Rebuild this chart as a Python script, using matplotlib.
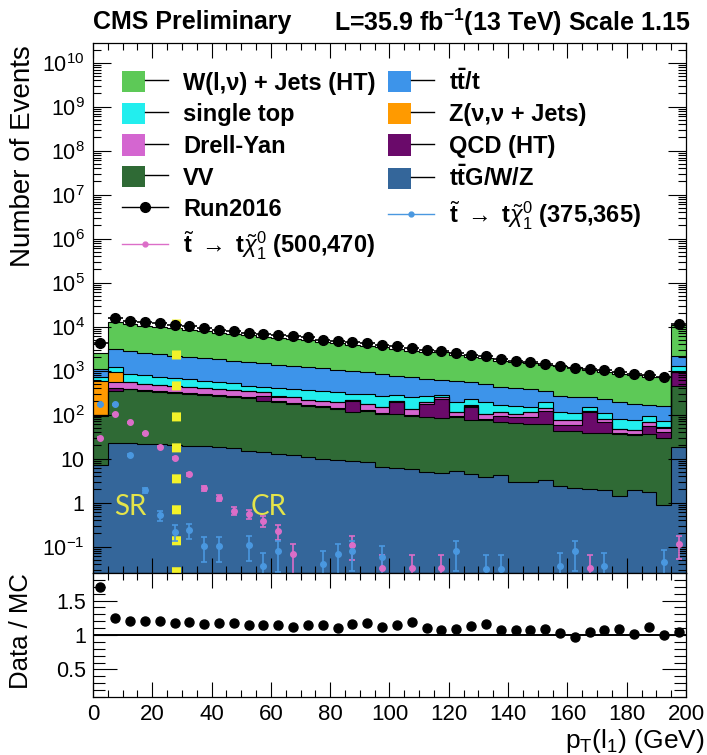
import numpy as np
import matplotlib
matplotlib.use("Agg")
import matplotlib.pyplot as plt
from matplotlib.patches import Patch
from matplotlib.lines import Line2D
from matplotlib.legend_handler import HandlerTuple
from matplotlib.ticker import FuncFormatter, LogLocator, MultipleLocator, NullFormatter

plt.rcParams['font.family'] = ['Liberation Sans', 'DejaVu Sans']
plt.rcParams['mathtext.fontset'] = 'custom'
plt.rcParams['mathtext.rm'] = 'Liberation Sans'
plt.rcParams['mathtext.it'] = 'Liberation Sans:italic'
plt.rcParams['mathtext.bf'] = 'Liberation Sans:bold'

# leading lepton pT, 5 GeV bins, last bin holds the overflow
edges = np.arange(0, 205, 5)
centers = 0.5 * (edges[:-1] + edges[1:])

data = [4200, 16000, 13500, 12500, 11800, 11000, 10200, 9300, 8600, 8100,
        7200, 6800, 6500, 6000, 5800, 5100, 4600, 4400, 4200, 3800,
        3650, 3300, 2900, 2800, 2500, 2300, 2200, 1800, 1700, 1600,
        1420, 1300, 1150, 1100, 1020, 920, 830, 790, 700, 11500]

# backgrounds, listed from the bottom of the stack upwards
ttgwz = [7, 23, 23, 21, 21, 20, 19, 19, 18, 17, 15, 14, 13, 12, 11, 10, 9.3, 8.7, 8.3, 6.4,
         6.0, 5.8, 4.9, 4.6, 5.2, 4.5, 3.9, 4.3, 2.9, 2.9, 3.2, 2.4, 2.2, 2.0, 1.9, 1.4, 1.9, 1.7, 0.9, 18]
vv = [88, 315, 354, 330, 306, 291, 276, 266, 252, 240, 224, 190, 184, 163, 149, 137, 126, 104, 111, 98,
      98, 89, 82, 79, 82, 72, 72, 63, 61, 58, 58, 41, 41, 36, 36, 35, 33, 34, 29, 438]
qcd = [2, 65, 15, 14, 13, 12, 12, 11, 11, 10, 10, 66, 5, 5, 7, 7, 8, 95, 6, 5,
       87, 4, 88, 143, 5, 76, 5, 28, 26, 29, 62, 16, 16, 75, 29, 2, 2, 20, 10, 460]
dy = [3, 139, 151, 133, 132, 126, 126, 115, 109, 103, 90, 52, 55, 68, 48, 54, 54, 11, 50, 38,
      17, 36, 16, 21, 21, 8, 23, 18, 14, 23, 19, 17, 17, 10, 13, 9, 8, 11, 11, 5]
znn = [480, 373, 4, 3, 3, 3, 2, 2, 2, 2, 2, 2, 2, 1, 1, 1, 1, 1, 1, 1,
       1, 1, 1, 1, 1, 1, 1, 1, 1, 1, 0.5, 0.5, 0.5, 0.5, 0.5, 0.5, 0.5, 0.5, 0.5, 3]
stop = [129, 274, 293, 297, 256, 229, 200, 180, 160, 143, 115, 109, 145, 133, 148, 130, 124, 75, 119, 122,
        76, 112, 78, 36, 77, 66, 86, 55, 52, 38, 48, 36, 32, 28, 26, 32, 30, 27, 20, 376]
ttbar = [384, 1910, 2010, 1772, 1619, 1509, 1445, 1347, 1258, 1175, 1114, 1037, 966, 867, 826, 791, 732, 689, 621, 570,
         485, 458, 388, 340, 391, 316, 316, 257, 240, 225, 160, 157, 148, 96, 116, 111, 99, 74, 84, 890]
wjets = [1380, 9800, 8400, 7850, 7480, 7210, 6490, 6080, 5480, 5170, 4750, 4490, 4280, 4110, 3900, 3340, 3130, 2810, 2640, 2550,
         2400, 2060, 1980, 2000, 1710, 1480, 1390, 1240, 1190, 1120, 960, 1000, 933, 800, 727, 654, 640, 541, 543, 8760]

nan = np.nan
sig_500_470 = [30, 104, 67, 38, 18.7, 10.3, 4.4, 2.1, 1.3, 0.66, 0.55, 0.39, 0.23, 0.068, nan, nan, nan, 0.11, nan, 0.033,
               nan, 0.033, nan, 0.033, nan, nan, nan, nan, nan, nan, nan, nan, nan, 0.033, nan, nan, nan, nan, nan, 0.115]
sig_375_365 = [170, 170, 12.3, 1.9, 0.51, 0.22, 0.24, 0.105, 0.105, nan, 0.11, 0.037, 0.08, nan, nan, 0.041, 0.068, 0.081, nan, 0.057,
               nan, nan, nan, nan, 0.081, nan, 0.031, 0.031, nan, nan, nan, 0.037, 0.081, nan, 0.037, nan, nan, nan, 0.044, nan]
w_500, w_375 = 0.033, 0.035   # per-event weights of the signal samples

sr_cr_cut = 28

stack = [ttgwz, vv, qcd, dy, znn, stop, ttbar, wjets]
colors = ['#34669a', '#2f6a35', '#6a0a6a', '#d466d0', '#ff9a00', '#22eeee', '#3d94ea', '#5dc957']
labels = [r'$\mathbf{t\bar{t}}$G/W/Z', 'VV', 'QCD (HT)', 'Drell-Yan', 'Z(ν,ν + Jets)',
          'single top', r'$\mathbf{t\bar{t}}$/t', 'W(l,ν) + Jets (HT)']
pink, lblue = '#dc6ec8', '#4a98e0'

fig = plt.figure(figsize=(7.07, 7.55), dpi=100)
ax = fig.add_axes([0.1315, 0.2411, 0.8388, 0.7020])
rax = fig.add_axes([0.1315, 0.0768, 0.8388, 0.1642], sharex=ax)

ax.set_yscale('log')
ymin, ymax = 10 ** -1.6, 10 ** 10.45

cum = np.cumsum(np.array(stack, dtype=float), axis=0)
base = np.full(len(centers), 1e-3)
for top, col in zip(cum, colors):
    ax.stairs(top, edges, baseline=base, fill=True, color=col, lw=0)
    base = top
for top in cum:
    ax.stairs(top, edges, baseline=None, color='black', lw=0.8)
total = cum[-1]

# SR / CR boundary
ax.plot([sr_cr_cut, sr_cr_cut], [1.52e4, ymin], color='#f2f22a', lw=6.5,
        dashes=(1, 2.43), dash_capstyle='butt', solid_capstyle='butt', zorder=4)
ax.text(12.5, 0.78, 'SR', color='#e4e44a', fontsize=20, family='Lato', ha='center', va='center')
ax.text(59.4, 0.78, 'CR', color='#e4e44a', fontsize=20, family='Lato', ha='center', va='center')

for sig, w, col in [(sig_500_470, w_500, pink), (sig_375_365, w_375, lblue)]:
    s = np.array(sig, dtype=float)
    ax.errorbar(centers, s, yerr=np.sqrt(s * w), fmt='o', color=col, ms=4, lw=1.2,
                capsize=2.5, capthick=1.2, zorder=5)

d = np.array(data, dtype=float)
ax.errorbar(centers, d, xerr=2.5, yerr=np.sqrt(d), fmt='o', color='black', ms=7, lw=1.2,
            capsize=0, zorder=6)

ax.set_xlim(0, 200)
ax.set_ylim(ymin, ymax)


def log_label(v, pos):
    k = int(round(np.log10(v)))
    if k == 0:
        return '1'
    if k == 1:
        return '10'
    return r'$10^{%d}$' % k


ax.yaxis.set_major_locator(LogLocator(base=10, numticks=20))
ax.yaxis.set_minor_locator(LogLocator(base=10, subs=np.arange(2, 10), numticks=20))
ax.yaxis.set_major_formatter(FuncFormatter(log_label))
ax.yaxis.set_minor_formatter(NullFormatter())
ax.tick_params(axis='y', which='major', length=13, width=0.8, direction='in',
               left=True, right=True, labelsize=15.5, pad=6)
ax.tick_params(axis='y', which='minor', length=6, width=0.8, direction='in', left=True, right=True)
ax.xaxis.set_major_locator(MultipleLocator(20))
ax.xaxis.set_minor_locator(MultipleLocator(5))
ax.tick_params(axis='x', which='major', length=11, width=0.8, direction='in',
               top=True, bottom=True, labelbottom=False)
ax.tick_params(axis='x', which='minor', length=5, width=0.8, direction='in', top=True, bottom=True)

# ratio panel
ratio = d / total
rax.errorbar(centers, ratio, yerr=ratio / np.sqrt(d), fmt='o', color='black', ms=6.5, lw=1, capsize=0)
rax.axhline(1.0, color='black', lw=1.4)
rax.set_ylim(0.1, 1.9)
rax.yaxis.set_major_locator(MultipleLocator(0.5))
rax.yaxis.set_minor_locator(MultipleLocator(0.1))
rax.yaxis.set_major_formatter(FuncFormatter(lambda v, p: '%g' % v))
rax.tick_params(axis='y', which='major', length=17, width=0.8, direction='in',
                left=True, right=True, labelsize=15.5, pad=5)
rax.tick_params(axis='y', which='minor', length=8.5, width=0.8, direction='in', left=True, right=True)
rax.tick_params(axis='x', which='major', length=11, width=0.8, direction='in',
                top=True, bottom=True, labelsize=16, pad=5)
rax.tick_params(axis='x', which='minor', length=5, width=0.8, direction='in', top=True, bottom=True)

for a in (ax, rax):
    for sp in a.spines.values():
        sp.set_linewidth(0.9)

fig.text(23 / 707, 1 - 45 / 755, 'Number of Events', rotation=90, ha='center', va='top', fontsize=20)
fig.text(21 / 707, 1 - 631 / 755, 'Data / MC', rotation=90, ha='center', va='center', fontsize=18.5)
fig.text(705 / 707, 1 - 741 / 755, r'p$_{\mathrm{T}}$(l$_{1}$) (GeV)', ha='right', va='center', fontsize=19)

fig.text(93 / 707, 1 - 22 / 755, 'CMS Preliminary', ha='left', va='center', fontsize=18, fontweight='bold')
fig.text(690 / 707, 1 - 22 / 755, r'L=35.9 fb$^{\mathbf{-1}}$(13 TeV) Scale 1.15', ha='right', va='center',
         fontsize=18, fontweight='bold')

# legend, ROOT style: filled box with the outline colour running through it
box = {lab: (Patch(facecolor=c, edgecolor='none'), Line2D([], [], color='black', lw=1))
       for lab, c in zip(labels, colors)}
h_data = Line2D([], [], color='black', marker='o', ms=7, lw=1)
h_500 = Line2D([], [], color=pink, marker='o', ms=3.5, lw=1)
h_375 = Line2D([], [], color=lblue, marker='o', ms=3.5, lw=1)
sig_500_lab = r'$\tilde{\mathbf{t}}$ $\rightarrow$ t$\tilde{\chi}^{0}_{1}$ (500,470)'
sig_375_lab = r'$\tilde{\mathbf{t}}$ $\rightarrow$ t$\tilde{\chi}^{0}_{1}$ (375,365)'

order = [labels[7], labels[5], labels[3], labels[1]]
col2 = [labels[6], labels[4], labels[2], labels[0]]
handles = [box[l] for l in order] + [h_data, h_500] + [box[l] for l in col2] + [h_375]
names = order + ['Run2016', sig_500_lab] + col2 + [sig_375_lab]
ax.legend(handles, names, handler_map={tuple: HandlerTuple(ndivide=None, pad=0)},
          ncol=2, loc='upper left', bbox_to_anchor=(0.049, 0.95), frameon=False,
          borderpad=0, borderaxespad=0, handlelength=1.95, handleheight=1.0,
          labelspacing=0.34, handletextpad=0.63, columnspacing=0.55,
          prop={'weight': 'bold', 'size': 17})

fig.savefig('out.png', dpi=100)
